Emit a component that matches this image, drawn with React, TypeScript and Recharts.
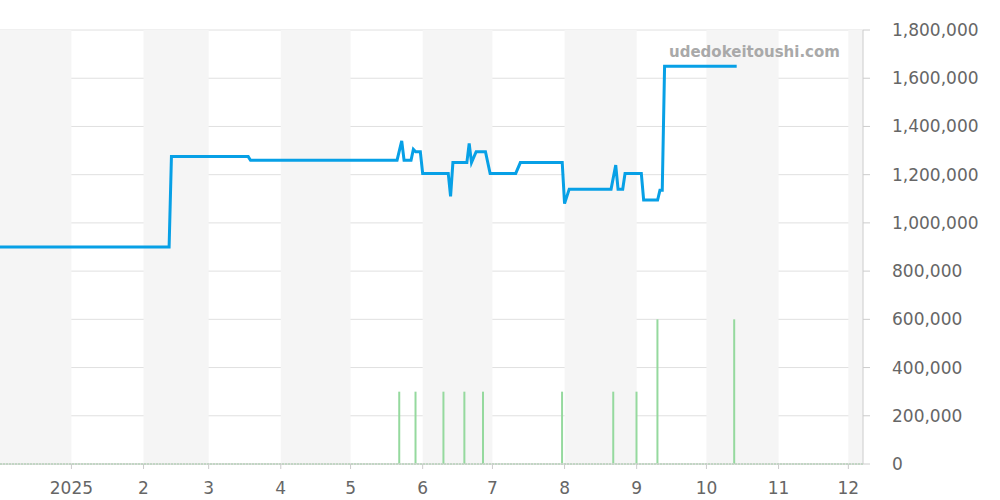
import {
  ComposedChart,
  Line,
  Bar,
  XAxis,
  YAxis,
  CartesianGrid,
  ReferenceArea,
  ReferenceLine,
} from "recharts";

// x values are days counted from 2024-11-30 (so 2024-12-01 is day 1)
const priceDays = [1, 74, 75, 108, 109, 172, 174, 175, 178, 179, 180, 182, 183, 194, 195, 196, 202, 203, 204, 206, 210, 212, 223, 225, 243, 244, 246, 264, 266, 267, 269, 270, 277, 278, 284, 285, 286, 287, 318];
const priceValues = [900000, 900000, 1275000, 1275000, 1260000, 1260000, 1340000, 1260000, 1260000, 1305000, 1295000, 1295000, 1205000, 1205000, 1110000, 1250000, 1250000, 1330000, 1250000, 1295000, 1295000, 1205000, 1205000, 1250000, 1250000, 1080000, 1140000, 1140000, 1240000, 1140000, 1140000, 1205000, 1205000, 1095000, 1095000, 1135000, 1135000, 1650000, 1650000];

const volumeDays = [173, 180, 192, 201, 209, 243, 265, 275, 284, 317];
const volumeValues = [300000, 300000, 300000, 300000, 300000, 300000, 300000, 300000, 600000, 600000];

const monthTicks = [32, 63, 91, 122, 152, 183, 213, 244, 275, 305, 336, 366];
const monthLabels = ["2025", "2", "3", "4", "5", "6", "7", "8", "9", "10", "11", "12"];

const shadedMonths: [number, number][] = [
  [1, 32],
  [63, 91],
  [122, 152],
  [183, 213],
  [244, 275],
  [305, 336],
  [366, 373],
];

const yTicks = [0, 200000, 400000, 600000, 800000, 1000000, 1200000, 1400000, 1600000, 1800000];

type Row = { day: number; price?: number; volume?: number };

function buildRows(): Row[] {
  const map = new Map<number, Row>();
  priceDays.forEach((d, i) => {
    map.set(d, { ...(map.get(d) || { day: d }), price: priceValues[i] });
  });
  volumeDays.forEach((d, i) => {
    map.set(d, { ...(map.get(d) || { day: d }), volume: volumeValues[i] });
  });
  return Array.from(map.values()).sort((a, b) => a.day - b.day);
}

const rows = buildRows();
const font = "'DejaVu Sans', sans-serif";

export default function App() {
  return (
    <div style={{ position: "absolute", left: 0, top: 0, width: 1000, height: 500, background: "#fff", fontFamily: font }}>
      <ComposedChart
        width={1000}
        height={500}
        data={rows}
        margin={{ top: 30, right: 0, bottom: 0, left: 0 }}
      >
        {shadedMonths.map(([a, b]) => (
          <ReferenceArea key={a} x1={a} x2={b} fill="#f5f5f5" fillOpacity={1} stroke="none" ifOverflow="hidden" />
        ))}
        <CartesianGrid vertical={false} stroke="#e0e0e0" />
        <XAxis
          dataKey="day"
          type="number"
          domain={[1.3, 372.3]}
          ticks={monthTicks}
          tickFormatter={(v) => monthLabels[monthTicks.indexOf(v)] ?? ""}
          height={36}
          stroke="#cccccc"
          tickSize={5}
          tickMargin={13}
          tick={{ fontSize: 17, fill: "#666", fontFamily: font }}
          allowDataOverflow
        />
        <YAxis
          orientation="right"
          width={137}
          domain={[0, 1800000]}
          ticks={yTicks}
          stroke="#cccccc"
          tickSize={7}
          tickMargin={22}
          tick={{ fontSize: 17, fill: "#666", fontFamily: font, textAnchor: "start" }}
          tickFormatter={(v) => v.toLocaleString("en-US")}
        />
        <ReferenceLine y={0} stroke="#b8e0bc" strokeDasharray="2 1" strokeWidth={2} />
        <Bar dataKey="volume" fill="#95d99e" barSize={2} isAnimationActive={false} />
        <Line
          dataKey="price"
          type="linear"
          stroke="#07a0e6"
          strokeWidth={3}
          dot={false}
          connectNulls
          isAnimationActive={false}
        />
      </ComposedChart>
      <div
        style={{
          position: "absolute",
          left: 669,
          top: 43,
          fontSize: 15,
          fontWeight: "bold",
          color: "#a9a9a9",
          fontFamily: font,
        }}
      >
        udedokeitoushi.com
      </div>
    </div>
  );
}
